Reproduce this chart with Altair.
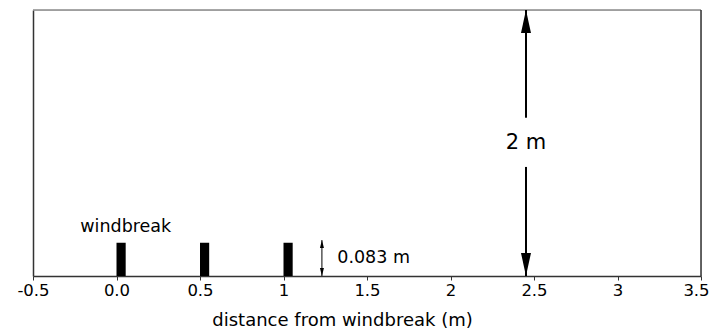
import altair as alt
import pandas as pd

# ---- data ----
tick_values = [-0.5, 0.0, 0.5, 1.0, 1.5, 2.0, 2.5, 3.0, 3.5]
tick_labels = ["-0.5", "0.0", "0.5", "1", "1.5", "2", "2.5", "3", "3.5"]

bar_start = [0.0, 0.5, 1.0]
bar_end = [0.055, 0.555, 1.055]
bar_height = [0.25, 0.25, 0.25]

big_arrow_x = 2.452
big_arrow_top = 2.0
big_arrow_bottom = 0.0
big_gap_low = 0.82
big_gap_high = 1.19

small_arrow_x = 1.23
small_arrow_top = 0.27
small_arrow_bottom = 0.0

labels_text = ["windbreak", "0.083 m"]
labels_x = [-0.217, 1.322]
labels_y = [0.368, 0.139]

big_label = "2 m"
big_label_y = 1.0

FONT = "DejaVu Sans"
X_DOMAIN = [-0.5, 3.5]
Y_DOMAIN = [0, 2]

# label expression: nested conditions
label_expr = "datum.label"
for v, t in reversed(list(zip(tick_values, tick_labels))):
    label_expr = f"(abs(datum.value - ({v})) < 1e-6 ? '{t}' : {label_expr})"

xs = alt.Scale(domain=X_DOMAIN, nice=False, zero=False)
ys = alt.Scale(domain=Y_DOMAIN, nice=False, zero=False)

bars_df = pd.DataFrame({"x": bar_start, "x2": bar_end, "y": [0] * 3, "y2": bar_height})

base_x = alt.X(
    "x:Q",
    scale=xs,
    axis=alt.Axis(
        values=tick_values,
        labelExpr=label_expr,
        title="distance from windbreak (m)",
        titleX=309,
        grid=False,
        domainColor="#333333",
        domainWidth=1.5,
        tickColor="#333333",
        tickSize=4,
        labelPadding=2,
        labelFont=FONT,
        labelFontSize=16.5,
        labelColor="black",
        labelOffset={"condition": {"test": f"datum.value == {X_DOMAIN[1]}", "value": -5}, "value": 0},
        titleFont=FONT,
        titleFontSize=18,
        titleFontWeight="normal",
        titleColor="black",
        titlePadding=13,
        labelFlush=False,
        labelOverlap=False,
    ),
)
base_y = alt.Y(
    "y:Q",
    scale=ys,
    axis=alt.Axis(
        title=None, labels=False, ticks=False, grid=False,
        domainColor="#333333", domainWidth=1.5,
    ),
)

bars = alt.Chart(bars_df).mark_rect(color="black").encode(
    x=base_x, x2="x2:Q", y=base_y, y2="y2:Q"
)

# frame: top and right
frame_top = alt.Chart(pd.DataFrame({"a": [0]})).mark_rule(color="#8a8a8a", strokeWidth=1.5).encode(
    x=alt.datum(X_DOMAIN[0], scale=xs), x2=alt.datum(X_DOMAIN[1]), y=alt.datum(Y_DOMAIN[1], scale=ys)
)
frame_right = alt.Chart(pd.DataFrame({"a": [0]})).mark_rule(color="#333333", strokeWidth=1.5).encode(
    x=alt.datum(X_DOMAIN[1], scale=xs), y=alt.datum(Y_DOMAIN[0], scale=ys), y2=alt.datum(Y_DOMAIN[1])
)

# big arrow shafts
shaft_df = pd.DataFrame({
    "x": [big_arrow_x, big_arrow_x],
    "y": [big_gap_high, big_arrow_bottom],
    "y2": [big_arrow_top, big_gap_low],
})
shafts = alt.Chart(shaft_df).mark_rule(color="black", strokeWidth=2).encode(
    x=alt.X("x:Q", scale=xs), y=alt.Y("y:Q", scale=ys), y2="y2:Q"
)

UP = "M0,0L0.435,2L-0.435,2Z"
DOWN = "M0,0L0.435,-2L-0.435,-2Z"
head_up = alt.Chart(pd.DataFrame({"x": [big_arrow_x], "y": [big_arrow_top]})).mark_point(
    shape=UP, size=529, filled=True, color="black", opacity=1, strokeWidth=0
).encode(x=alt.X("x:Q", scale=xs), y=alt.Y("y:Q", scale=ys))
head_down = alt.Chart(pd.DataFrame({"x": [big_arrow_x], "y": [big_arrow_bottom]})).mark_point(
    shape=DOWN, size=529, filled=True, color="black", opacity=1, strokeWidth=0
).encode(x=alt.X("x:Q", scale=xs), y=alt.Y("y:Q", scale=ys))

# small arrow
small_shaft = alt.Chart(pd.DataFrame({"x": [small_arrow_x], "y": [small_arrow_bottom], "y2": [small_arrow_top]})).mark_rule(
    color="black", strokeWidth=1
).encode(x=alt.X("x:Q", scale=xs), y=alt.Y("y:Q", scale=ys), y2="y2:Q")
SUP = "M0,0L0.5,2L-0.5,2Z"
SDOWN = "M0,0L0.5,-2L-0.5,-2Z"
s_up = alt.Chart(pd.DataFrame({"x": [small_arrow_x], "y": [small_arrow_top]})).mark_point(
    shape=SUP, size=64, filled=True, color="black", opacity=1, strokeWidth=0
).encode(x=alt.X("x:Q", scale=xs), y=alt.Y("y:Q", scale=ys))
s_down = alt.Chart(pd.DataFrame({"x": [small_arrow_x], "y": [small_arrow_bottom]})).mark_point(
    shape=SDOWN, size=64, filled=True, color="black", opacity=1, strokeWidth=0
).encode(x=alt.X("x:Q", scale=xs), y=alt.Y("y:Q", scale=ys))

# texts
txt_df = pd.DataFrame({"x": labels_x, "y": labels_y, "t": labels_text})
texts = alt.Chart(txt_df).mark_text(
    align="left", baseline="middle", font=FONT, fontSize=17.5, color="black"
).encode(x=alt.X("x:Q", scale=xs), y=alt.Y("y:Q", scale=ys), text="t:N")

big_txt = alt.Chart(pd.DataFrame({"x": [big_arrow_x], "y": [big_label_y], "t": [big_label]})).mark_text(
    align="center", baseline="middle", font=FONT, fontSize=21, color="black"
).encode(x=alt.X("x:Q", scale=xs), y=alt.Y("y:Q", scale=ys), text="t:N")

chart = alt.layer(
    bars, frame_top, frame_right, shafts, head_up, head_down, small_shaft, s_up, s_down, texts, big_txt
).properties(
    width=668, height=266,
    autosize=alt.AutoSizeParams(type="none"),
    padding={"left": 33, "top": 10, "right": 12, "bottom": 55},
).configure_view(stroke=None).configure(background="white")

chart.save("out.html", embed_options={"renderer": "svg", "actions": False})
